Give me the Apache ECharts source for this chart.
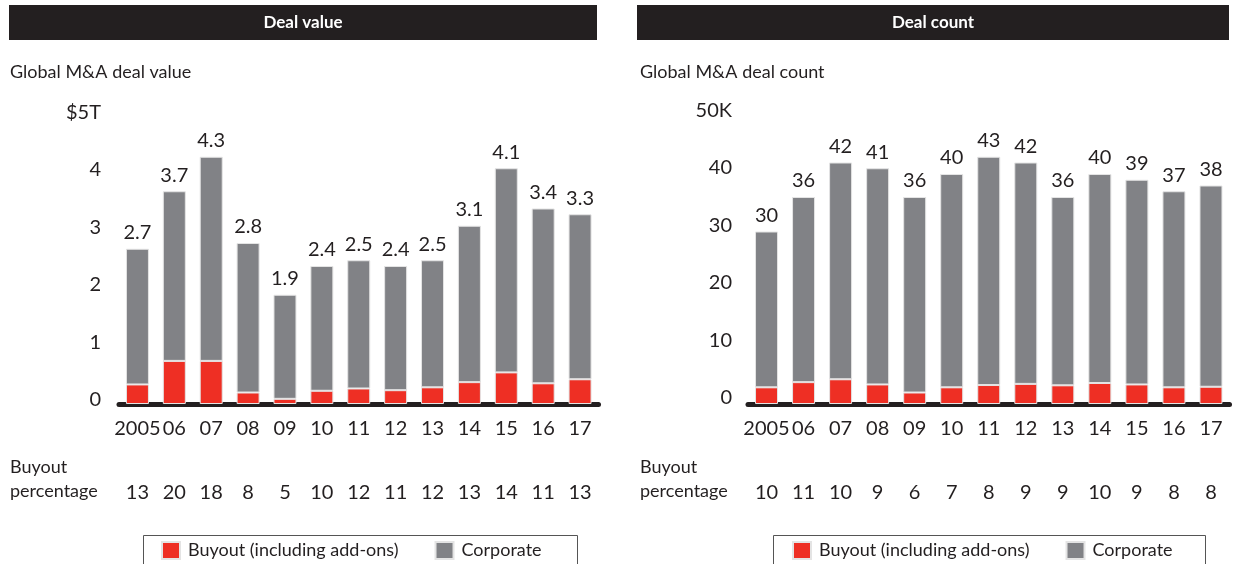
<!DOCTYPE html>
<html>
<head>
<meta charset="utf-8">
<script src="https://cdn.jsdelivr.net/npm/echarts@6/dist/echarts.min.js"></script>
<style>
  html, body { margin: 0; padding: 0; background: #fff; }
  #chart { width: 1233px; height: 564px; }
</style>
</head>
<body>
<div id="chart"></div>
<script>
// Years on the category axis
const years = ['2005', '06', '07', '08', '09', '10', '11', '12', '13', '14', '15', '16', '17'];

// Global M&A deal value ($T): stacked total and buyout share
const valueTotal = [2.7, 3.7, 4.3, 2.8, 1.9, 2.4, 2.5, 2.4, 2.5, 3.1, 4.1, 3.4, 3.3];
const valueBuyout = [0.34, 0.75, 0.75, 0.20, 0.09, 0.23, 0.27, 0.24, 0.29, 0.38, 0.55, 0.36, 0.43];
const valueBuyoutPct = ['13', '20', '18', '8', '5', '10', '12', '11', '12', '13', '14', '11', '13'];

// Global M&A deal count (K): stacked total and buyout share
const countTotal = [30, 36, 42, 41, 36, 40, 43, 42, 36, 40, 39, 37, 38];
const countBuyout = [2.9, 3.8, 4.3, 3.4, 2.0, 2.9, 3.3, 3.5, 3.25, 3.65, 3.4, 2.9, 3.0];
const countBuyoutPct = ['10', '11', '10', '9', '6', '7', '8', '9', '9', '10', '9', '8', '8'];

const valueTicks = { max: 5, interval: 1, top: '$5T' };
const countTicks = { max: 50, interval: 10, top: '50K' };

const RED = '#ee2f24';
const GREY = '#818286';
const INK = '#231f20';
const FONT = 'Lato';

const corporateOf = (tot, buy) => tot.map((t, i) => +(t - buy[i]).toFixed(3));

// Y labels sit a little above their ticks: bottom-aligned in a short line box
function panelAxes(gridIndex, ticks, pct, labelMargin, labelLineHeight) {
  const x = [
    {
      type: 'category', gridIndex, data: years,
      axisLine: { lineStyle: { color: INK, width: 5 } },
      axisTick: { show: false },
      axisLabel: { color: INK, fontSize: 20, fontFamily: FONT, margin: 15, interval: 0 }
    },
    {
      type: 'category', gridIndex, data: pct, position: 'bottom', offset: 64,
      axisLine: { show: false }, axisTick: { show: false },
      axisLabel: { color: INK, fontSize: 20, fontFamily: FONT, margin: 15, interval: 0 }
    }
  ];
  const y = {
    type: 'value', gridIndex, min: 0, max: ticks.max, interval: ticks.interval,
    axisLine: { show: false }, axisTick: { show: false }, splitLine: { show: false },
    axisLabel: {
      color: INK, fontSize: 20, fontFamily: FONT, margin: labelMargin,
      verticalAlign: 'bottom', lineHeight: labelLineHeight,
      formatter: v => (v === ticks.max ? ticks.top : String(v))
    }
  };
  return { x, y };
}

function panelSeries(axisIdx, total, buyout, digits) {
  const corp = corporateOf(total, buyout);
  const common = {
    type: 'bar', stack: 'deals' + axisIdx, barWidth: 23,
    xAxisIndex: axisIdx * 2, yAxisIndex: axisIdx
  };
  return [
    Object.assign({}, common, {
      name: 'Buyout (including add-ons)', data: buyout,
      itemStyle: { color: RED, borderColor: '#e4e4e4', borderWidth: 1 }
    }),
    Object.assign({}, common, {
      name: 'Corporate', data: corp,
      itemStyle: { color: GREY, borderColor: '#e4e4e4', borderWidth: 1 },
      label: {
        show: true, position: 'top', distance: 6,
        color: INK, fontSize: 20, fontFamily: FONT,
        formatter: p => total[p.dataIndex].toFixed(digits)
      }
    })
  ];
}

const left = panelAxes(0, valueTicks, valueBuyoutPct, 18, 8);
const right = panelAxes(1, countTicks, countBuyoutPct, 16, 12);

function header(x, w, title) {
  return {
    type: 'group', left: x, top: 5,
    children: [
      { type: 'rect', shape: { x: 0, y: 0, width: w, height: 35 }, style: { fill: INK } },
      {
        type: 'text', x: w / 2, y: 18,
        style: { text: title, fill: '#fff', font: 'bold 17px ' + FONT, align: 'center', verticalAlign: 'middle' }
      }
    ]
  };
}

function plainText(x, y, text, size) {
  return {
    type: 'text', left: x, top: y,
    style: { text, fill: INK, font: size + 'px ' + FONT }
  };
}

function legendBox(x, w) {
  return {
    type: 'rect', left: x, top: 533,
    shape: { x: 0, y: 0, width: w, height: 40 },
    style: { fill: 'none', stroke: '#555', lineWidth: 1 }
  };
}

const legendCommon = {
  data: ['Buyout (including add-ons)', 'Corporate'],
  top: 536, itemWidth: 18, itemHeight: 17, itemGap: 36,
  icon: 'rect', selectedMode: false,
  textStyle: { color: INK, fontSize: 18, fontFamily: FONT, padding: [0, 0, 0, 3] }
};

const option = {
  animation: false,
  backgroundColor: '#fff',
  grid: [
    { left: 119, right: 1233 - 598.5, top: 116.5, bottom: 160 },
    { left: 748, right: 1233 - 1229.5, top: 116.5, bottom: 160 }
  ],
  xAxis: [...left.x, ...right.x],
  yAxis: [left.y, right.y],
  legend: [
    Object.assign({ left: 156 }, legendCommon),
    Object.assign({ left: 787 }, legendCommon)
  ],
  graphic: [
    header(9, 588, 'Deal value'),
    header(637, 592, 'Deal count'),
    plainText(10, 63, 'Global M&A deal value', 18),
    plainText(640, 63, 'Global M&A deal count', 18),
    plainText(10, 458, 'Buyout', 18),
    plainText(10, 482, 'percentage', 18),
    plainText(640, 458, 'Buyout', 18),
    plainText(640, 482, 'percentage', 18),
    legendBox(141, 434),
    legendBox(771, 432)
  ],
  series: [
    ...panelSeries(0, valueTotal, valueBuyout, 1),
    ...panelSeries(1, countTotal, countBuyout, 0)
  ]
};

const chart = echarts.init(document.getElementById('chart'), null, { renderer: 'canvas' });
chart.setOption(option);
</script>
</body>
</html>
